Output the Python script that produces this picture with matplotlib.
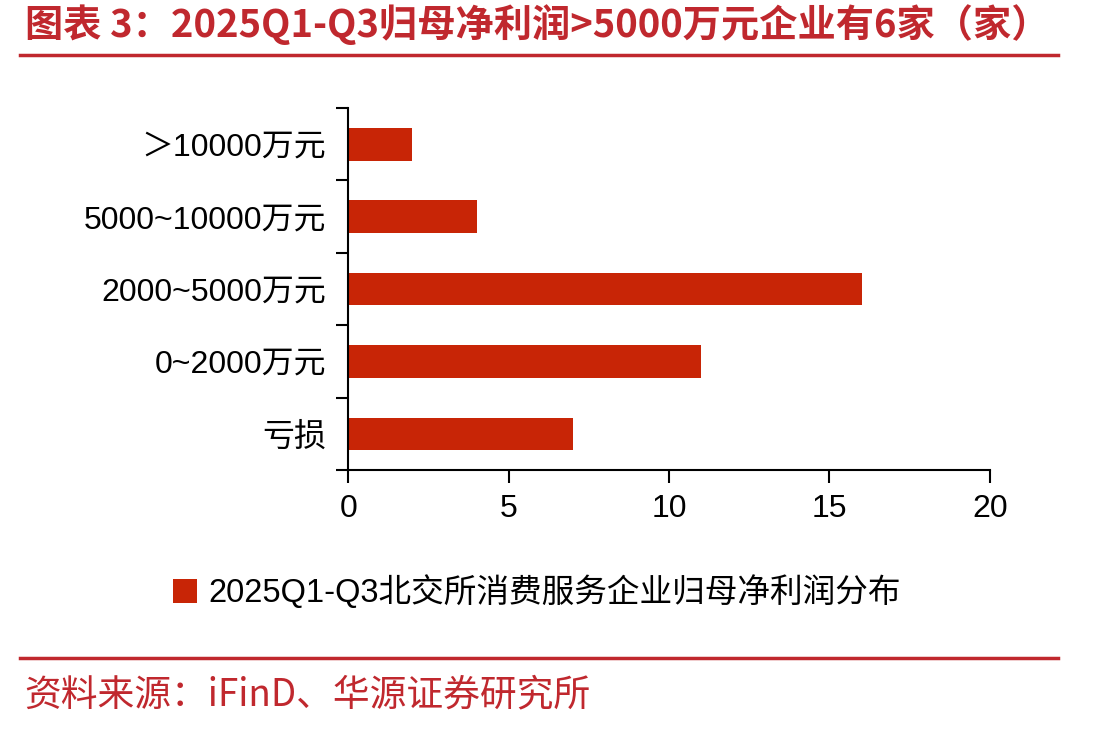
import matplotlib
matplotlib.use('Agg')
import matplotlib.pyplot as plt
from matplotlib.lines import Line2D

plt.rcParams['font.family'] = ['Liberation Sans', 'Noto Sans CJK SC', 'DejaVu Sans']

# 数据
categories = ['亏损', '0~2000万元', '2000~5000万元', '5000~10000万元', '＞10000万元']
counts = [7, 11, 16, 4, 2]
xticks = [0, 5, 10, 15, 20]

title = '图表 3：2025Q1-Q3归母净利润>5000万元企业有6家（家）'
legend_label = '2025Q1-Q3北交所消费服务企业归母净利润分布'
source = '资料来源：iFinD、华源证券研究所'

red = '#C0282E'
bar_color = '#C82506'
cjk = ['Noto Sans CJK SC', 'DejaVu Sans']

fig = plt.figure(figsize=(11.16, 7.3), dpi=100)
ax = fig.add_axes([0.312, 0.356, 0.575, 0.496])

ypos = list(range(len(categories)))
bars = ax.barh(ypos, counts, height=0.45, color=bar_color, label=legend_label)

ax.set_xlim(0, 20)
ax.set_ylim(-0.5, len(categories) - 0.5)
ax.set_xticks(xticks)
ax.set_yticks(ypos)
ax.set_yticklabels(categories)
ax.set_yticks([i - 0.5 for i in range(len(categories) + 1)], minor=True)
ax.tick_params(axis='y', which='major', length=0, pad=16, labelsize=23)
ax.tick_params(axis='y', which='minor', length=9, width=1.5, direction='out')
ax.tick_params(axis='x', length=9, width=1.5, direction='out', labelsize=23, pad=8)

for s in ['top', 'right']:
    ax.spines[s].set_visible(False)
for s in ['left', 'bottom']:
    ax.spines[s].set_linewidth(1.5)

fig.legend(handles=[bars], labels=[legend_label], loc='center',
           bbox_to_anchor=(0.481, 0.189), frameon=False, fontsize=23.5,
           handlelength=0.75, handleheight=0.75, handletextpad=0.35)

# 标题与来源
fig.text(0.022, 0.966, title, color=red, fontsize=27.5, fontweight='bold',
         va='center', ha='left', family=cjk)
fig.add_artist(Line2D([0.018, 0.948], [0.925, 0.925], color=red, linewidth=2.5))
fig.add_artist(Line2D([0.018, 0.948], [0.099, 0.099], color=red, linewidth=2.5))
fig.text(0.022, 0.048, source, color=red, fontsize=26.5, va='center', ha='left', family=cjk)

fig.savefig('out.png', dpi=100)
